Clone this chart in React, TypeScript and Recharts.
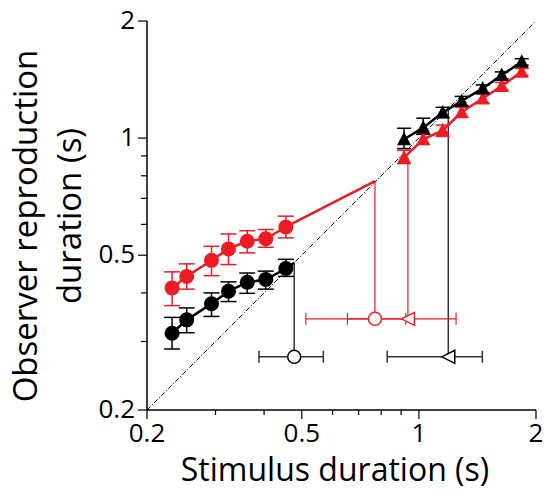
import {
  ComposedChart,
  Scatter,
  ErrorBar,
  XAxis,
  YAxis,
  ReferenceLine,
} from 'recharts';

const RED = '#ed1c24';
const DARK = '#333333';
const FONT = '"Open Sans", sans-serif';

// axis ticks (log scale, both axes)
const tickValues = [0.2, 0.3, 0.4, 0.5, 0.6, 0.7, 0.8, 0.9, 1, 2];
const labelledTicks = [0.2, 0.5, 1, 2];

// short durations (circles)
const circleX = [0.232, 0.253, 0.293, 0.324, 0.362, 0.404, 0.455];
const blackCircleY = [0.315, 0.341, 0.375, 0.404, 0.426, 0.433, 0.462];
const blackCircleLo = [0.287, 0.316, 0.348, 0.38, 0.399, 0.409, 0.441];
const blackCircleHi = [0.346, 0.366, 0.4, 0.427, 0.45, 0.455, 0.488];
const redCircleY = [0.412, 0.441, 0.485, 0.519, 0.543, 0.551, 0.591];
const redCircleLo = [0.371, 0.409, 0.443, 0.473, 0.507, 0.524, 0.554];
const redCircleHi = [0.453, 0.475, 0.527, 0.567, 0.578, 0.582, 0.63];

// long durations (triangles)
const triX = [0.916, 1.026, 1.151, 1.288, 1.459, 1.633, 1.838];
const blackTriY = [0.993, 1.064, 1.163, 1.246, 1.342, 1.452, 1.571];
const blackTriLo = [0.94, 1.023, 1.13, 1.21, 1.31, 1.42, 1.54];
const blackTriHi = [1.06, 1.125, 1.2, 1.28, 1.37, 1.48, 1.6];
const redTriY = [0.891, 0.993, 1.047, 1.167, 1.264, 1.362, 1.48];
const redTriLo = [0.86, 0.964, 1.01, 1.13, 1.23, 1.33, 1.45];
const redTriHi = [0.93, 1.023, 1.08, 1.2, 1.3, 1.39, 1.51];

// points of subjective equality, with horizontal error ranges
const pseBlackCircle = { x: 0.478, y: 0.274, lo: 0.388, hi: 0.568 };
const pseRedCircle = { x: 0.771, y: 0.343, lo: 0.512, hi: 0.925 };
const pseRedTri = { x: 0.937, y: 0.343, lo: 0.655, hi: 1.246 };
const pseBlackTri = { x: 1.19, y: 0.274, lo: 0.829, hi: 1.456 };

// where each drop line starts on the fitted curve
const blackCircleTop = 0.478;
const redCircleTop = 0.775;
const redTriTop = 0.89;
const blackTriTop = 1.19;

const makeSeries = (xs: number[], ys: number[], lo: number[], hi: number[]) =>
  xs.map((x, i) => ({ x, y: ys[i], ey: [ys[i] - lo[i], hi[i] - ys[i]] }));

const makePse = (p: { x: number; y: number; lo: number; hi: number }) => [
  { x: p.x, y: p.y, ex: [p.x - p.lo, p.hi - p.x] },
];

const blackCircles = makeSeries(circleX, blackCircleY, blackCircleLo, blackCircleHi);
const redCircles = makeSeries(circleX, redCircleY, redCircleLo, redCircleHi);
const blackTris = makeSeries(triX, blackTriY, blackTriLo, blackTriHi);
const redTris = makeSeries(triX, redTriY, redTriLo, redTriHi);

const FilledCircle = (color: string) => (p: any) =>
  <circle cx={p.cx} cy={p.cy} r={7.5} fill={color} stroke="none" />;

const FilledTri = (color: string) => (p: any) => (
  <polygon
    points={`${p.cx},${p.cy - 7.5} ${p.cx - 7},${p.cy + 6} ${p.cx + 7},${p.cy + 6}`}
    fill={color}
    stroke="none"
  />
);

const OpenCircle = (color: string) => (p: any) =>
  <circle cx={p.cx} cy={p.cy} r={6.5} fill="#fff" stroke={color} strokeWidth={1.5} />;

const OpenLeftTri = (color: string) => (p: any) => (
  <polygon
    points={`${p.cx - 6.5},${p.cy} ${p.cx + 6.5},${p.cy - 6.5} ${p.cx + 6.5},${p.cy + 6.5}`}
    fill="#fff"
    stroke={color}
    strokeWidth={1.5}
  />
);

const XTick = ({ x, y, payload }: any) => {
  const major = labelledTicks.includes(payload.value);
  return (
    <g>
      <line x1={x} x2={x} y1={y} y2={y + (major ? 9 : 5)} stroke="#000" strokeWidth={1.2} />
      {major && (
        <text x={x} y={y + 32} textAnchor="middle" fontSize={26} fontFamily={FONT} fill="#000">
          {payload.value}
        </text>
      )}
    </g>
  );
};

const YTick = ({ x, y, payload }: any) => {
  const major = labelledTicks.includes(payload.value);
  return (
    <g>
      <line x1={x} x2={x - (major ? 9 : 6)} y1={y} y2={y} stroke="#000" strokeWidth={1.2} />
      {major && (
        <text x={x - 12} y={y + 8} textAnchor="end" fontSize={26} fontFamily={FONT} fill="#000">
          {payload.value}
        </text>
      )}
    </g>
  );
};

export default function App() {
  return (
    <div style={{ position: 'absolute', left: 0, top: 0, background: '#fff' }}>
      <ComposedChart
        width={548}
        height={491}
        margin={{ top: 21, right: 12, bottom: 0, left: 0 }}
      >
        <XAxis
          dataKey="x"
          type="number"
          scale="log"
          domain={[0.2, 2]}
          allowDataOverflow
          ticks={tickValues}
          interval={0}
          tickSize={0}
          tickMargin={0}
          tickLine={false}
          tick={<XTick />}
          axisLine={{ stroke: '#000', strokeWidth: 1.5 }}
          height={81}
        />
        <YAxis
          dataKey="y"
          type="number"
          scale="log"
          domain={[0.2, 2]}
          allowDataOverflow
          ticks={tickValues}
          interval={0}
          tickSize={0}
          tickMargin={0}
          tickLine={false}
          tick={<YTick />}
          axisLine={{ stroke: '#000', strokeWidth: 1.5 }}
          width={147}
        />

        {/* identity line */}
        <ReferenceLine
          segment={[{ x: 0.2, y: 0.2 }, { x: 2, y: 2 }]}
          stroke="#000"
          strokeWidth={1}
          strokeDasharray="5 2 1 2"
        />

        {/* drop lines to the PSE markers */}
        <ReferenceLine
          segment={[{ x: pseBlackCircle.x, y: blackCircleTop }, { x: pseBlackCircle.x, y: pseBlackCircle.y }]}
          stroke={DARK}
          strokeWidth={1.5}
        />
        <ReferenceLine
          segment={[{ x: pseRedCircle.x, y: redCircleTop }, { x: pseRedCircle.x, y: pseRedCircle.y }]}
          stroke={RED}
          strokeWidth={1.2}
        />
        <ReferenceLine
          segment={[{ x: pseRedTri.x, y: redTriTop }, { x: pseRedTri.x, y: pseRedTri.y }]}
          stroke={RED}
          strokeWidth={1.2}
        />
        <ReferenceLine
          segment={[{ x: pseBlackTri.x, y: blackTriTop }, { x: pseBlackTri.x, y: pseBlackTri.y }]}
          stroke={DARK}
          strokeWidth={1.5}
        />

        {/* fit extensions to the identity line */}
        <ReferenceLine
          segment={[
            { x: circleX[circleX.length - 1], y: redCircleY[redCircleY.length - 1] },
            { x: pseRedCircle.x, y: redCircleTop },
          ]}
          stroke={RED}
          strokeWidth={2.5}
        />
        <ReferenceLine
          segment={[
            { x: circleX[circleX.length - 1], y: blackCircleY[blackCircleY.length - 1] },
            { x: pseBlackCircle.x, y: blackCircleTop },
          ]}
          stroke="#000"
          strokeWidth={2.5}
        />

        <Scatter
          data={redCircles}
          fill={RED}
          line={{ stroke: RED, strokeWidth: 2.5 }}
          shape={FilledCircle(RED)}
          isAnimationActive={false}
        >
          <ErrorBar dataKey="ey" direction="y" width={8} stroke={RED} strokeWidth={1.5} />
        </Scatter>
        <Scatter
          data={blackCircles}
          fill="#000"
          line={{ stroke: '#000', strokeWidth: 2.5 }}
          shape={FilledCircle('#000')}
          isAnimationActive={false}
        >
          <ErrorBar dataKey="ey" direction="y" width={8} stroke="#000" strokeWidth={1.5} />
        </Scatter>
        <Scatter
          data={redTris}
          fill={RED}
          line={{ stroke: RED, strokeWidth: 2.5 }}
          shape={FilledTri(RED)}
          isAnimationActive={false}
        >
          <ErrorBar dataKey="ey" direction="y" width={7} stroke={RED} strokeWidth={1.5} />
        </Scatter>
        <Scatter
          data={blackTris}
          fill="#000"
          line={{ stroke: '#000', strokeWidth: 2.5 }}
          shape={FilledTri('#000')}
          isAnimationActive={false}
        >
          <ErrorBar dataKey="ey" direction="y" width={7} stroke="#000" strokeWidth={1.5} />
        </Scatter>

        {/* PSE markers */}
        <Scatter data={makePse(pseRedCircle)} fill={RED} shape={OpenCircle(RED)} isAnimationActive={false}>
          <ErrorBar dataKey="ex" direction="x" width={6} stroke={RED} strokeWidth={1.2} />
        </Scatter>
        <Scatter data={makePse(pseRedTri)} fill={RED} shape={OpenLeftTri(RED)} isAnimationActive={false}>
          <ErrorBar dataKey="ex" direction="x" width={6} stroke={RED} strokeWidth={1.2} />
        </Scatter>
        <Scatter data={makePse(pseBlackCircle)} fill={DARK} shape={OpenCircle('#000')} isAnimationActive={false}>
          <ErrorBar dataKey="ex" direction="x" width={6} stroke={DARK} strokeWidth={1.5} />
        </Scatter>
        <Scatter data={makePse(pseBlackTri)} fill={DARK} shape={OpenLeftTri('#000')} isAnimationActive={false}>
          <ErrorBar dataKey="ex" direction="x" width={6} stroke={DARK} strokeWidth={1.5} />
        </Scatter>

        {/* axis titles */}
        <g fontFamily={FONT} fill="#000">
          <text x={335} y={481} textAnchor="middle" fontSize={32}>
            Stimulus duration (s)
          </text>
          <text x={37} y={226} transform="rotate(-90 37 226)" textAnchor="middle" fontSize={33}>
            Observer reproduction
          </text>
          <text x={81} y={216} transform="rotate(-90 81 216)" textAnchor="middle" fontSize={33}>
            duration (s)
          </text>
        </g>
      </ComposedChart>
    </div>
  );
}
